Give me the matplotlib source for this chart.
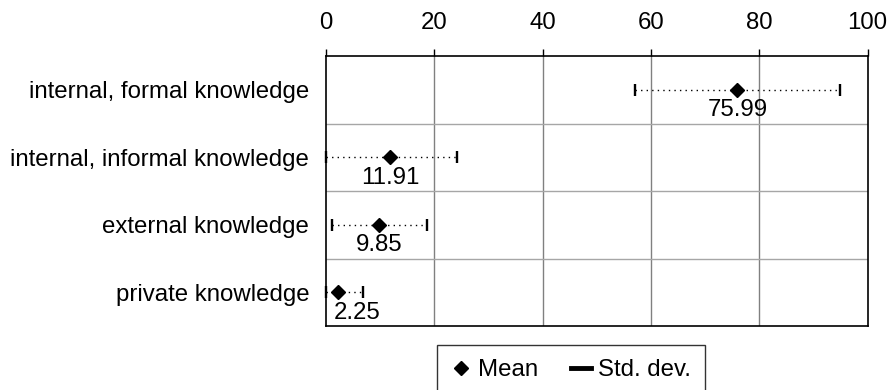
import matplotlib
matplotlib.use("Agg")
import matplotlib.pyplot as plt
from matplotlib.lines import Line2D
import numpy as np

plt.rcParams['font.family'] = ['Liberation Sans', 'DejaVu Sans']

categories = ["internal, formal knowledge", "internal, informal knowledge",
              "external knowledge", "private knowledge"]
means = [75.99, 11.91, 9.85, 2.25]
std_devs = [19.0, 12.3, 8.8, 4.5]
x_ticks = [0, 20, 40, 60, 80, 100]

FS = 17.3

fig = plt.figure(figsize=(8.93, 3.9), dpi=100)
ax = fig.add_axes([326/893, 1-326/390, (867.5-326)/893, (326-56)/390])

n = len(categories)
ypos = np.arange(n)[::-1] + 0.5  # top row first
m = np.array(means)
sd = np.array(std_devs)
lower = np.minimum(sd, m - 0)  # clip at axis minimum
upper = sd

eb = ax.errorbar(m, ypos, xerr=[lower, upper], fmt='none', ecolor='black',
                 elinewidth=1.0, capsize=4, capthick=1.7, zorder=3)
eb[2][0].set_linestyle((0, (1, 3)))
for c in eb[1]:
    c.set_clip_on(False)
ax.plot(m, ypos, linestyle='none', marker='D', markersize=7.5,
        color='black', zorder=4, clip_on=False)

for mv, y in zip(means, ypos):
    xt = max(mv, 5.7)
    ax.annotate(f"{mv:.2f}", xy=(xt, y), xytext=(0, -7), textcoords='offset points',
                ha='center', va='top', fontsize=FS, color='black', zorder=5)

ax.set_xlim(0, 100)
ax.set_ylim(0, n)
ax.set_xticks(x_ticks)
ax.set_xticklabels([str(t) for t in x_ticks])
ax.xaxis.tick_top()
ax.tick_params(axis='x', which='major', direction='out', length=5, width=1,
               labelsize=FS, pad=11, colors='black')
ax.set_yticks(ypos)
ax.set_yticklabels(categories)
ax.tick_params(axis='y', length=0, labelsize=FS, pad=12)

for xv in x_ticks[1:-1]:
    ax.axvline(xv, color='#808080', linewidth=1, zorder=1)
for yv in range(1, n):
    ax.axhline(yv, color='#a6a6a6', linewidth=1, zorder=1)

for s in ax.spines.values():
    s.set_color('black')
    s.set_linewidth(1.2)

handles = [Line2D([], [], marker='D', linestyle='none', color='black', markersize=7.5),
           Line2D([], [], linestyle='-', color='black', linewidth=3.5)]
leg = fig.legend(handles, ['Mean', 'Std. dev.'], loc='upper center',
                 bbox_to_anchor=(571/893, 1-345/390), ncol=2, frameon=True,
                 fancybox=False, edgecolor='black', fontsize=FS,
                 handlelength=0.8, handletextpad=0.3, columnspacing=1.4,
                 borderpad=0.6, borderaxespad=0)
leg.get_frame().set_linewidth(1.0)

fig.savefig("out.png", dpi=100)
